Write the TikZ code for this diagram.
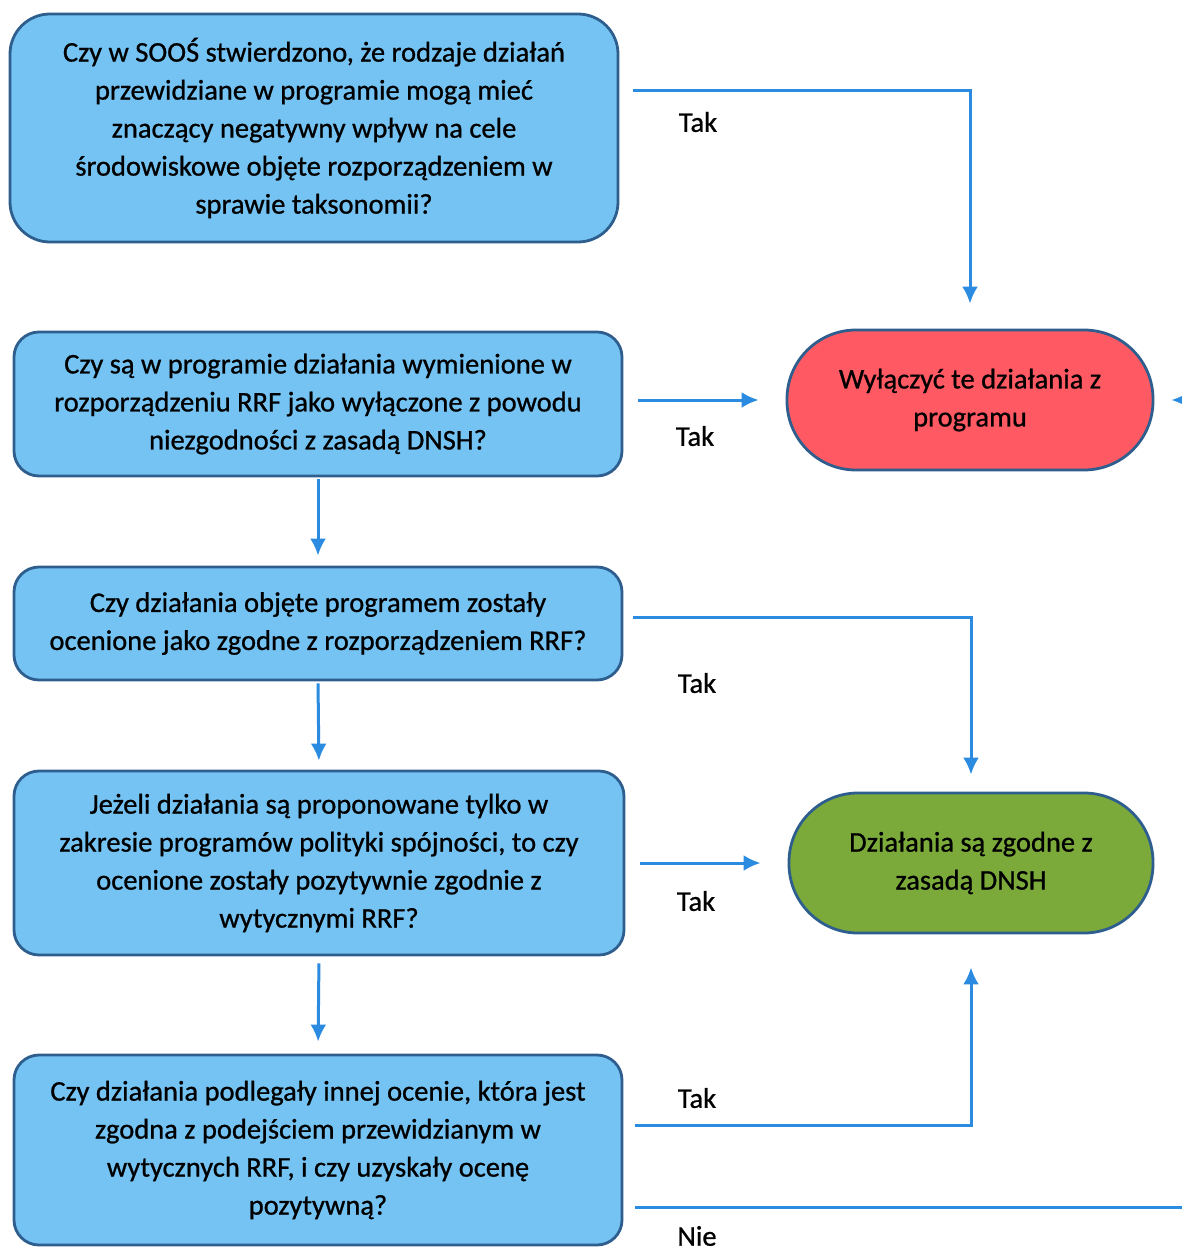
\documentclass[tikz,border=0pt]{standalone}
\usepackage{fontspec}
\setmainfont{Carlito}[FakeBold=0.8]
\usetikzlibrary{arrows.meta}
\definecolor{boxblue}{HTML}{74C3F3}
\definecolor{boxedge}{HTML}{2E5E8E}
\definecolor{arrblue}{HTML}{2B8BE0}
\definecolor{redfill}{HTML}{FF5A63}
\definecolor{greenfill}{HTML}{7BAA3A}
\begin{document}
\begin{tikzpicture}[x=1pt,y=-1pt,
  every node/.style={font=\fontsize{28.5}{38}\selectfont, inner sep=0pt},
  qbox/.style={draw=boxedge, line width=2.8pt, fill=boxblue, rounded corners=25pt, align=center},
  endbox/.style={draw=boxedge, line width=2.8pt, rounded corners=69pt, align=center, minimum width=364pt, minimum height=140pt},
  arr/.style={draw=arrblue, line width=3pt, -{Latex[length=17pt,width=16pt]}},
  lbl/.style={text=black}
]
\useasboundingbox (0,0) rectangle (1182,1255);

\node[qbox, rounded corners=40pt, minimum width=608pt, minimum height=228pt] (b1) at (314,128)
  {Czy w SOOŚ stwierdzono, że rodzaje działań\\przewidziane w programie mogą mieć\\znaczący negatywny wpływ na cele\\środowiskowe objęte rozporządzeniem w\\sprawie taksonomii?};
\node[qbox, minimum width=608pt, minimum height=144pt] (b2) at (318,404)
  {Czy są w programie działania wymienione w\\rozporządzeniu RRF jako wyłączone z powodu\\niezgodności z zasadą DNSH?};
\node[qbox, minimum width=608pt, minimum height=113pt] (b3) at (318,623.5)
  {Czy działania objęte programem zostały\\ocenione jako zgodne z rozporządzeniem RRF?};
\node[qbox, minimum width=610pt, minimum height=184pt] (b4) at (319,863)
  {Jeżeli działania są proponowane tylko w\\zakresie programów polityki spójności, to czy\\ocenione zostały pozytywnie zgodnie z\\wytycznymi RRF?};
\node[qbox, minimum width=608pt, minimum height=190pt] (b5) at (318,1150)
  {Czy działania podlegały innej ocenie, która jest\\zgodna z podejściem przewidzianym w\\wytycznych RRF, i czy uzyskały ocenę\\pozytywną?};

\node[endbox, fill=redfill, minimum width=366pt] (red) at (970,400)
  {Wyłączyć te działania z\\programu};
\node[endbox, fill=greenfill] (green) at (971,863)
  {Działania są zgodne z\\zasadą DNSH};

% connectors
\draw[arr, shorten >=25pt] ([xshift=14pt,yshift=38pt]b1.east) -| (red.north);
\draw[arr, shorten <=15pt, shorten >=27pt] (b2.east |- red.west) -- (red.west);
\draw[arr, shorten <=2pt, shorten >=10pt] (b2.south) -- (b3.north);
\draw[arr, shorten >=17pt] ([xshift=10pt,yshift=6.5pt]b3.east) -| (green.north);
\draw[arr, shorten <=2pt, shorten >=9pt] (b3.south) -- (b4.north);
\draw[arr, shorten <=15pt, shorten >=27pt] (b4.east) -- (green.west);
\draw[arr, shorten <=7pt, shorten >=12pt] (b4.south) -- (b5.north);
\draw[arr, shorten >=33pt] ([xshift=12pt,yshift=25pt]b5.east) -| (green.south);
\coordinate (nieturn) at (1195,1207);
\draw[arr] ([xshift=12pt,yshift=-57pt]b5.east) -- (nieturn) |- ([xshift=17pt]red.east);

% labels
\node[lbl] (t1) at (698,122) {Tak};
\node[lbl] (t2) at (695,436) {Tak};
\node[lbl] (t3) at (697,683) {Tak};
\node[lbl] (t4) at (696,901) {Tak};
\node[lbl] (t5) at (697,1098) {Tak};
\node[lbl] (t6) at (697,1236) {Nie};
\end{tikzpicture}
\end{document}
